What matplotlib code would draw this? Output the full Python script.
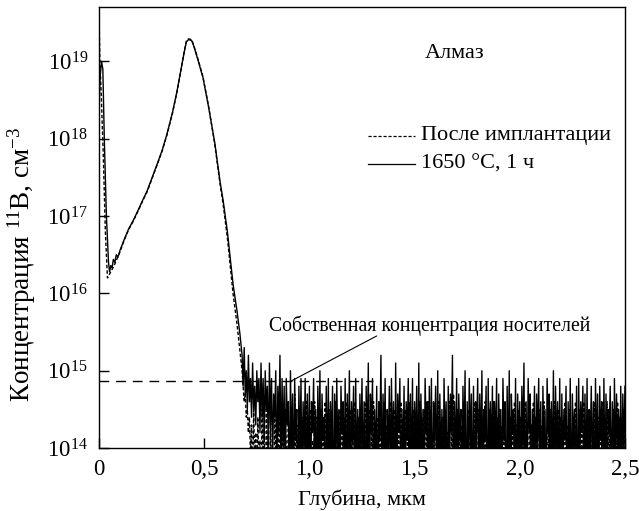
import numpy as np
import matplotlib
matplotlib.use("Agg")
import matplotlib.pyplot as plt

plt.rcParams['font.family'] = ['Liberation Serif', 'DejaVu Serif']
plt.rcParams['mathtext.fontset'] = 'custom'
plt.rcParams['mathtext.rm'] = 'Liberation Serif'
plt.rcParams['mathtext.it'] = 'Liberation Serif:italic'

# --- data (log10 of concentration, cm^-3) ---
depth_main_solid = [0.000, 0.005, 0.012, 0.018, 0.025, 0.035, 0.045, 0.050, 0.056, 0.062,
                    0.068, 0.075, 0.082, 0.090, 0.10, 0.12, 0.14, 0.162, 0.19, 0.21,
                    0.228, 0.25, 0.276, 0.30, 0.323, 0.35, 0.371, 0.39, 0.405, 0.415,
                    0.425, 0.44, 0.45, 0.47, 0.494, 0.52, 0.55, 0.575, 0.59, 0.61,
                    0.637, 0.656, 0.67]
log_main_solid = [18.4, 18.8, 19.0, 18.9, 18.0, 17.0, 16.4, 16.28, 16.36, 16.33,
                  16.44, 16.40, 16.50, 16.47, 16.56, 16.70, 16.83, 16.94, 17.10, 17.22,
                  17.32, 17.48, 17.67, 17.85, 18.06, 18.35, 18.62, 18.90, 19.12, 19.25,
                  19.28, 19.27, 19.20, 19.02, 18.79, 18.42, 17.95, 17.45, 17.20, 16.80,
                  16.12, 15.77, 15.47]

depth_main_dash = [0.000, 0.004, 0.010, 0.020, 0.030, 0.040, 0.050, 0.060, 0.075,
                   0.086, 0.10, 0.12, 0.14, 0.162, 0.19, 0.21, 0.228, 0.25, 0.276,
                   0.30, 0.323, 0.35, 0.371, 0.39, 0.405, 0.415, 0.425, 0.44, 0.45,
                   0.47, 0.494, 0.52, 0.55, 0.575, 0.59, 0.61, 0.637, 0.656, 0.67]
log_main_dash = [19.6, 19.0, 18.6, 17.8, 16.8, 16.2, 16.25, 16.30, 16.38,
                 16.45, 16.54, 16.69, 16.82, 16.93, 17.09, 17.21, 17.31, 17.47, 17.66,
                 17.84, 18.05, 18.34, 18.61, 18.90, 19.13, 19.26, 19.29, 19.28, 19.21,
                 19.03, 18.80, 18.43, 17.93, 17.42, 17.15, 16.72, 16.00, 15.60, 15.25]

tail_start, tail_step = 0.68, 0.005
log_tail_solid = [
    15.2, 14.8, 15.3, 14.7, 15.0, 14.5, 15.2, 14.6, 14.9, 14.4, 15.1, 14.5, 14.8, 14.3, 15.0, 14.6, 14.9, 14.2, 15.1, 14.4,
    14.9, 14.1, 15.0, 14.5, 14.8, 13.9, 15.1, 14.3, 14.9, 13.8, 14.7, 14.4, 15.0, 13.6, 14.8, 14.2, 15.2, 13.7, 14.9, 14.0,
    14.8, 13.5, 14.9, 14.3, 14.6, 13.2, 15.0, 13.9, 14.7, 13.4, 14.9, 14.1, 14.5, 13.0, 14.8, 13.8, 14.9, 13.3, 14.6, 14.0,
    14.9, 13.1, 14.7, 13.7, 14.8, 12.9, 14.6, 14.2, 14.9, 13.4, 14.5, 13.0, 14.8, 13.8, 15.0, 13.2, 14.7, 14.1, 14.4, 12.9,
    14.8, 13.6, 14.9, 13.1, 14.6, 14.0, 14.8, 12.8, 14.7, 13.5, 14.9, 13.9, 14.5, 13.0, 14.8, 14.2, 14.6, 13.3, 14.9, 12.9,
    14.7, 13.8, 15.0, 13.2, 14.6, 14.1, 14.8, 12.9, 14.9, 13.6, 14.5, 13.0, 14.7, 14.0, 14.9, 13.4, 14.6, 12.8, 14.8, 13.9,
    15.1, 13.1, 14.7, 14.2, 14.9, 13.0, 14.5, 13.7, 14.8, 12.9, 14.6, 14.1, 15.2, 13.3, 14.7, 13.8, 14.9, 12.8, 14.5, 14.0,
    14.8, 13.2, 14.9, 13.9, 14.6, 12.9, 15.1, 13.5, 14.7, 14.2, 14.9, 13.0, 14.5, 13.8, 14.8, 13.1, 14.6, 14.1, 14.9, 12.8,
    14.7, 13.6, 14.9, 13.0, 14.6, 14.0, 14.8, 13.3, 15.1, 12.9, 14.7, 13.9, 14.5, 13.1, 14.9, 14.2, 14.6, 12.8, 14.8, 13.7,
    14.9, 13.0, 14.6, 14.1, 14.8, 13.4, 15.0, 12.9, 14.7, 13.8, 14.5, 13.1, 14.9, 14.0, 14.6, 12.8, 14.8, 13.5, 14.7, 14.2,
    15.2, 13.0, 14.6, 13.7, 14.9, 12.9, 14.7, 14.1, 14.5, 13.2, 14.8, 13.9, 15.0, 12.8, 14.6, 13.6, 14.9, 14.0, 14.7, 13.1,
    14.8, 12.9, 14.6, 14.2, 14.9, 13.3, 14.7, 13.8, 15.0, 13.0, 14.5, 14.1, 14.8, 12.8, 14.9, 13.5, 14.6, 13.9, 14.8, 13.1,
    14.6, 14.0, 14.9, 12.9, 14.7, 13.7, 14.5, 13.2, 14.9, 14.1, 14.6, 12.8, 14.8, 13.6, 15.0, 13.0, 14.7, 14.2, 14.5, 13.4,
    14.9, 12.9, 14.7, 13.9, 14.6, 13.1, 14.8, 14.0, 15.1, 12.8, 14.6, 13.5, 14.9, 14.2, 14.7, 13.0, 14.5, 13.8, 14.8, 12.9,
    14.7, 14.1, 14.9, 13.3, 14.6, 12.8, 14.8, 13.9, 14.5, 13.1, 14.9, 14.2, 14.7, 12.9, 14.6, 13.6, 15.0, 13.0, 14.8, 14.0,
    14.6, 13.2, 14.9, 12.8, 14.7, 13.8, 14.5, 14.1, 14.8, 13.0, 14.6, 13.5, 14.9, 12.9, 14.7, 14.0, 14.5, 13.3, 14.8, 12.8,
    14.9, 13.7, 14.6, 14.2, 14.8, 13.0, 14.7, 13.4, 14.9, 12.9, 14.5, 14.0, 14.8, 13.6, 14.6, 12.8, 14.9, 13.9, 14.7, 13.1,
    14.8, 14.1, 14.6, 12.9, 14.9, 13.5, 14.7, 13.0, 14.5, 14.2, 14.8, 13.3, 14.6, 12.8, 14.9, 13.8, 14.7, 14.0, 14.5, 13.1,
    14.8, 13.6, 14.7, 13.9, 14.8]
log_tail_dash = [
    15.0, 14.8, 14.6, 14.7, 14.4, 14.5, 14.2, 14.4, 13.9, 14.3, 13.6, 14.5, 13.8, 14.2, 13.3, 14.4, 13.7, 14.1, 13.0, 14.5,
    13.5, 14.3, 12.9, 14.6, 13.8, 14.2, 13.1, 14.4, 13.6, 14.0, 12.8, 14.5, 13.9, 14.3, 13.2, 14.6, 12.9, 14.1, 13.7, 14.4,
    13.0, 14.5, 14.0, 13.4, 14.6, 12.8, 14.2, 13.8, 14.4, 13.1, 14.7, 13.6, 14.3, 12.9, 14.5, 14.0, 13.3, 14.4, 12.8, 14.2,
    13.9, 14.6, 13.0, 14.3, 13.5, 14.5, 12.9, 14.1, 13.8, 14.6, 13.2, 14.4, 12.8, 14.2, 14.0, 14.5, 13.4, 14.3, 12.9, 14.6,
    13.7, 14.2, 13.1, 14.5, 12.8, 14.4, 13.9, 14.1, 13.3, 14.6, 12.9, 14.3, 13.6, 14.5, 13.0, 14.2, 14.0, 14.4, 12.8, 14.6,
    13.5, 14.3, 13.2, 14.5, 13.8, 14.1, 12.9, 14.6, 13.4, 14.2, 14.0, 14.4, 12.8, 14.5, 13.7, 14.3, 13.1, 14.6, 12.9, 14.2,
    13.9, 14.5, 13.0, 14.3, 13.6, 14.6, 12.8, 14.1, 14.0, 14.4, 13.3, 14.5, 12.9, 14.2, 13.8, 14.6, 13.1, 14.3, 13.5, 14.4,
    12.8, 14.6, 13.9, 14.2, 13.2, 14.5, 12.9, 14.3, 13.7, 14.4, 13.0, 14.6, 14.0, 14.1, 13.4, 14.5, 12.8, 14.2, 13.8, 14.6,
    13.1, 14.3, 13.6, 14.5, 12.9, 14.4, 14.0, 14.2, 13.3, 14.6, 12.8, 14.1, 13.9, 14.5, 13.0, 14.3, 13.5, 14.6, 12.9, 14.4,
    13.8, 14.2, 13.2, 14.5, 12.8, 14.3, 14.0, 14.6, 13.4, 14.1, 12.9, 14.4, 13.7, 14.5, 13.1, 14.2, 13.9, 14.6, 12.8, 14.3,
    13.6, 14.7, 13.0, 14.2, 14.0, 14.5, 12.9, 14.4, 13.5, 14.3, 13.2, 14.6, 12.8, 14.1, 13.8, 14.5, 13.1, 14.4, 13.9, 14.2,
    12.9, 14.6, 13.4, 14.3, 13.0, 14.5, 14.1, 14.2, 12.8, 14.4, 13.7, 14.6, 13.2, 14.1, 13.9, 14.5, 12.9, 14.3, 13.5, 14.6,
    13.0, 14.2, 14.0, 14.4, 12.8, 14.5, 13.6, 14.3, 13.3, 14.6, 12.9, 14.1, 13.8, 14.5, 13.1, 14.4, 14.0, 14.2, 12.8, 14.6,
    13.5, 14.3, 13.2, 14.5, 12.9, 14.4, 13.9, 14.1, 13.0, 14.6, 13.7, 14.2, 12.8, 14.5, 14.0, 14.3, 13.4, 14.6, 12.9, 14.4,
    13.8, 14.2, 13.1, 14.5, 12.8, 14.3, 13.6, 14.6, 14.0, 14.1, 12.9, 14.4, 13.3, 14.5, 13.0, 14.2, 13.9, 14.6, 12.8, 14.3,
    13.5, 14.5, 13.2, 14.4, 14.0, 14.2, 12.9, 14.6, 13.7, 14.3, 13.0, 14.5, 12.8, 14.1, 13.8, 14.4, 13.1, 14.6, 13.9, 14.2,
    12.9, 14.5, 13.4, 14.3, 13.0, 14.6, 14.1, 14.2, 12.8, 14.4, 13.6, 14.5, 13.2, 14.1, 13.9, 14.6, 12.9, 14.3, 13.5, 14.4,
    13.0, 14.2, 14.0, 14.5, 12.8, 14.3, 13.7, 14.6, 13.1, 14.4, 12.9, 14.2, 13.8, 14.5, 13.3, 14.3, 14.0, 14.6, 12.8, 14.4,
    13.6, 14.2, 13.1, 14.5, 14.0]

intrinsic_log = 14.87
intrinsic_depth = [0.0, 1.30]
leader_from = (0.915, 14.87)   # annotation leader line (depth, log10)
leader_to = (1.32, 15.45)

x_ticks = [0, 0.5, 1.0, 1.5, 2.0, 2.5]
x_ticklabels = ["0", "0,5", "1,0", "1,5", "2,0", "2,5"]
y_decades = [14, 15, 16, 17, 18, 19]

legend_labels = ["После имплантации", "1650 °C, 1 ч"]
label_sample = "Алмаз"
label_intrinsic = "Собственная концентрация носителей"

# --- build series ---
tail_depth = np.round(tail_start + tail_step * np.arange(len(log_tail_solid)), 4)
x_solid = np.concatenate([depth_main_solid, tail_depth])
y_solid = 10 ** np.concatenate([log_main_solid, log_tail_solid])
x_dash = np.concatenate([depth_main_dash, tail_depth])
y_dash = 10 ** np.concatenate([log_main_dash, log_tail_dash])

fig = plt.figure(figsize=(6.39, 5.11), dpi=100)
ax = fig.add_axes([0.155, 0.123, 0.823, 0.863])

ax.plot(x_dash, y_dash, color='black', lw=1.0, ls=(0, (2.5, 1.5)))
ax.plot(x_solid, y_solid, color='black', lw=1.0)
ax.plot(intrinsic_depth, [10 ** intrinsic_log] * 2, color='black', lw=1.0,
        ls=(0, (7, 5)))

ax.set_yscale('log')
ax.set_xlim(0, 2.5)
ax.set_ylim(1e14, 10 ** 19.70)
ax.set_xticks(x_ticks)
ax.set_xticklabels(x_ticklabels)
ax.set_yticks([10.0 ** k for k in y_decades])
ax.set_yticklabels([f"$10^{{{k}}}$" for k in y_decades])
ax.yaxis.set_minor_locator(matplotlib.ticker.NullLocator())
ax.tick_params(direction='in', length=7, width=1.0, labelsize=16.5, pad=8,
               top=False, right=False)
for s in ax.spines.values():
    s.set_linewidth(1.0)

ax.set_xlabel("Глубина, мкм", fontsize=16, labelpad=7)
ax.set_ylabel("Концентрация $^{11}$B, см$^{-3}$", fontsize=19.5)
ax.yaxis.set_label_coords(-0.117, 0.417)

ax.text(1.69, 10 ** 19.1, label_sample, fontsize=16, ha='center', va='center')
ax.text(1.57, 10 ** 15.58, label_intrinsic, fontsize=14.2, ha='center', va='center')
ax.annotate("", xy=(leader_from[0], 10 ** leader_from[1]),
            xytext=(leader_to[0], 10 ** leader_to[1]),
            arrowprops=dict(arrowstyle='-', color='black', lw=0.8,
                            shrinkA=0, shrinkB=0))

# legend drawn manually
lx0, lx1, ltx = 1.28, 1.50, 1.53
ly1, ly2 = 10 ** 18.04, 10 ** 17.67
ax.plot([lx0, lx1], [ly1, ly1], color='black', lw=0.9, ls=(0, (2.5, 1.5)))
ax.plot([lx0, lx1], [ly2, ly2], color='black', lw=0.9)
ax.text(ltx, ly1, legend_labels[0], fontsize=16, va='center', ha='left')
ax.text(ltx, ly2, legend_labels[1], fontsize=16, va='center', ha='left')

fig.savefig("out.png", dpi=100)
